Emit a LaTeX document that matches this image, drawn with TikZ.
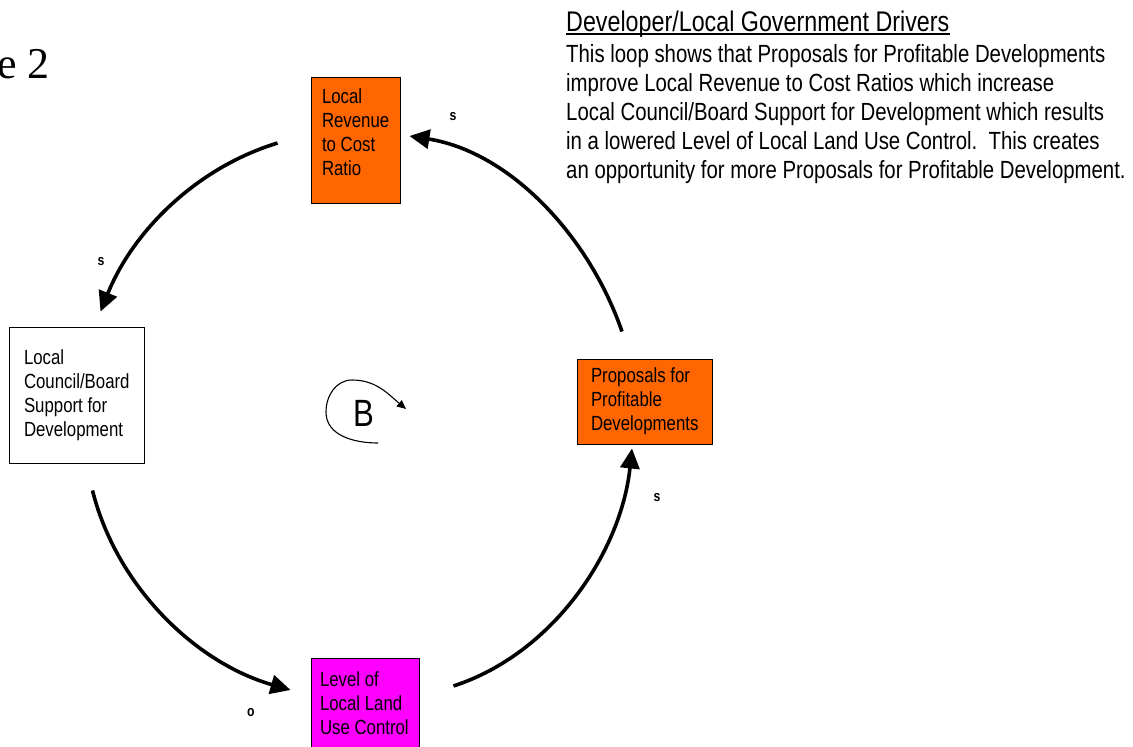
\documentclass[tikz,border=0pt]{standalone}
\usepackage{fontspec}
\setmainfont{Liberation Sans}[FakeStretch=0.82]
\newfontfamily\figfont{Liberation Serif}
\usetikzlibrary{arrows.meta}
\definecolor{loudorange}{HTML}{FF6600}
\definecolor{hotmagenta}{HTML}{FF00FF}

\tikzset{
  varbox/.style={rectangle, draw, line width=0.9pt, align=flush left, inner sep=0pt,
    font=\fontsize{20.5}{24}\selectfont},
  causal/.style={line width=3.6pt, looseness=0.9, -{Triangle[length=20pt,width=19pt]}},
  polarity/.style={font=\bfseries\fontsize{15}{15}\selectfont, inner sep=0pt},
  loopline/.style={line width=1.1pt, -{Triangle[length=9pt,width=8pt]}},
}

\begin{document}
\begin{tikzpicture}[x=1pt, y=1pt]
    \useasboundingbox (0,0) rectangle (1133,-747);
    % figure number, cut at the left edge
    \node[anchor=base west, inner sep=0pt, font=\figfont\fontsize{44}{44}\selectfont] (fignum) at (-3,-78) {e 2};

    % loop variables
    \node[varbox, fill=loudorange, minimum width=89, minimum height=126, text width=67, text depth=88pt] (rev) at (355.5,-140) {Local\\Revenue\\to Cost\\Ratio};
    \node[varbox, fill=white, minimum width=135, minimum height=136, text width=105] (council) at (76.5,-395) {Local\\Council/Board\\Support for\\Development};
    \node[varbox, fill=hotmagenta, minimum width=108, minimum height=90, text width=90] (level) at (365,-703) {Level of\\Local Land\\Use Control};
    \node[varbox, fill=loudorange, minimum width=135, minimum height=85, text width=107] (prop) at (644.5,-401.5) {Proposals for\\Profitable\\Developments};

    % causal links
    \draw[causal] ([xshift=-33pt,yshift=-3pt]rev.west) to[out=197, in=68] ([xshift=24pt,yshift=15pt]council.north);
    \draw[causal] ([xshift=16pt,yshift=-27pt]council.south) to[out=284, in=164] ([xshift=-20pt,yshift=13pt]level.west);
    \draw[causal] ([xshift=34pt,yshift=17pt]level.east) to[out=18, in=264] ([xshift=-12.5pt,yshift=-4pt]prop.south);
    \draw[causal] ([xshift=-22.5pt,yshift=27pt]prop.north) to[out=109, in=351] ([xshift=9pt,yshift=4pt]rev.east);

    \node[polarity] (pol1) at (101,-262) {s};
    \node[polarity] (pol2) at (453,-117) {s};
    \node[polarity] (pol3) at (657,-498) {s};
    \node[polarity] (pol4) at (251,-713) {o};

    % balancing loop marker
    \node[font=\fontsize{38}{38}\selectfont, inner sep=0pt] (loopB) at (364,-413) {B};
    \draw[loopline] ([shift={(14pt,-30pt)}]loopB.center) to[out=180, in=270] ([shift={(-38pt,1pt)}]loopB.center)
      to[out=90, in=180] ([shift={(-12pt,33pt)}]loopB.center) to[out=0, in=140] ([shift={(42pt,4pt)}]loopB.center);

    % explanation
    \node[anchor=base west, inner sep=0pt, font=\fontsize{28.4}{32}\selectfont] (title) at (566,-31) {Developer/Local Government Drivers};
    \draw[line width=1.3pt] ([yshift=-3pt]title.base west) -- ([yshift=-3pt]title.base east);
    \node[anchor=north west, inner sep=0pt, align=left, font=\fontsize{24.85}{29}\selectfont] (story) at (566,-44)
      {This loop shows that Proposals for Profitable Developments\\
       improve Local Revenue to Cost Ratios which increase\\
       Local Council/Board Support for Development which results\\
       in a lowered Level of Local Land Use Control.\ \ This creates\\
       an opportunity for more Proposals for Profitable Development.};
  \end{tikzpicture}
\end{document}
